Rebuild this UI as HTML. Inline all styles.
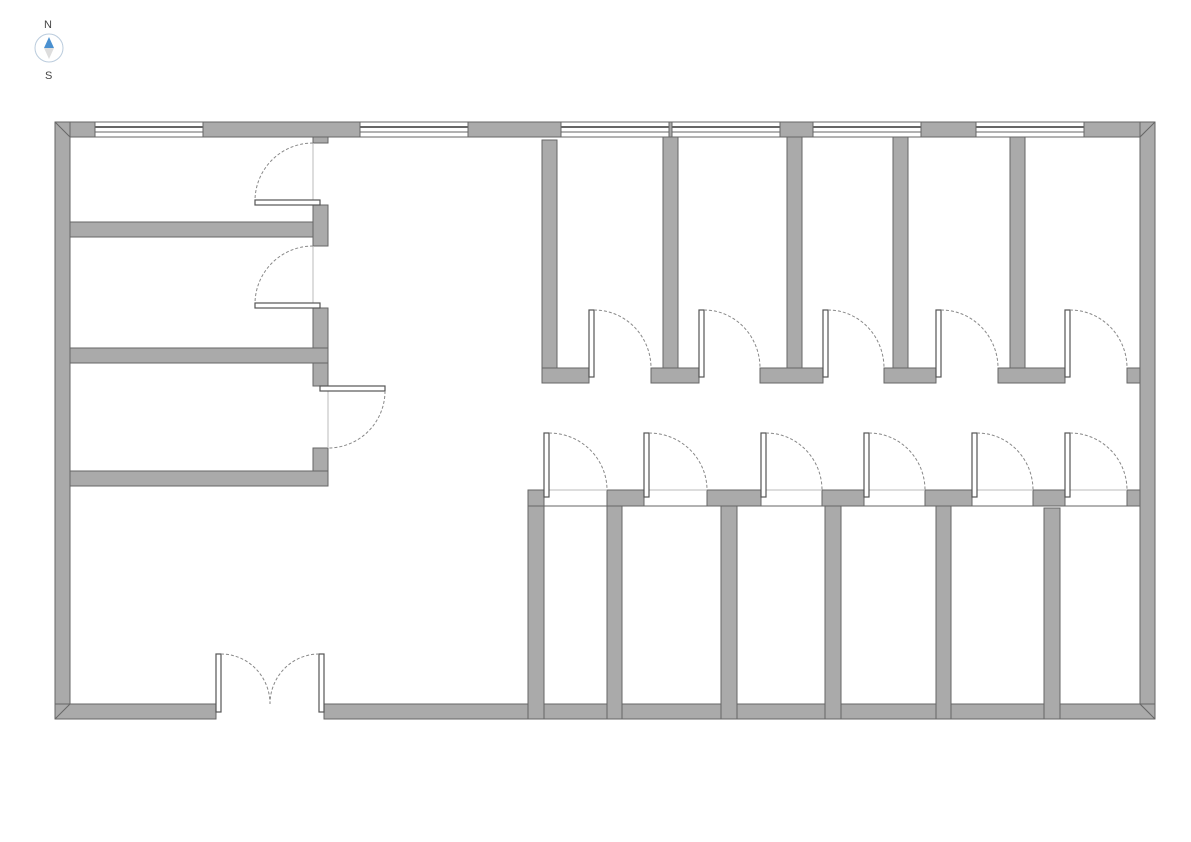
<!DOCTYPE html>
<html><head><meta charset="utf-8"><style>
html,body{margin:0;padding:0;background:#fff;}
svg{display:block;}
.w{fill:#aaa;stroke:#666;stroke-width:1;}
.l{fill:#fff;stroke:#555;stroke-width:1.2;}
.a{fill:none;stroke:#888;stroke-width:1;stroke-dasharray:3,2;}
.t{fill:#444;font-family:"Liberation Sans",sans-serif;font-size:11px;}
</style></head><body>
<svg width="1191" height="842" viewBox="0 0 1191 842" xmlns="http://www.w3.org/2000/svg">
<!-- compass -->
<text class="t" x="44" y="28">N</text>
<circle cx="49" cy="48" r="14" fill="none" stroke="#bcd" stroke-width="1"/>
<polygon points="49,37 54,48 44,48" fill="#4a90d0"/>
<polygon points="49,59 54,48 44,48" fill="#ddd"/>
<text class="t" x="45" y="79">S</text>

<!-- outer walls -->
<rect class="w" x="55" y="122" width="1100" height="15"/>
<rect class="w" x="55" y="122" width="15" height="597"/>
<rect class="w" x="1140" y="122" width="15" height="597"/>
<rect class="w" x="55" y="704" width="161" height="15"/>
<rect class="w" x="324" y="704" width="831" height="15"/>
<line x1="55" y1="122" x2="70" y2="137" stroke="#666"/>
<line x1="1155" y1="122" x2="1140" y2="137" stroke="#666"/>
<line x1="55" y1="719" x2="70" y2="704" stroke="#666"/>
<line x1="1155" y1="719" x2="1140" y2="704" stroke="#666"/>

<!-- windows -->
<g fill="#fff" stroke="#666">
<rect x="95" y="122" width="108" height="15"/><line x1="95" y1="127" x2="203" y2="127" stroke-width="2"/><line x1="95" y1="132" x2="203" y2="132"/>
<rect x="360" y="122" width="108" height="15"/><line x1="360" y1="127" x2="468" y2="127" stroke-width="2"/><line x1="360" y1="132" x2="468" y2="132"/>
<rect x="561" y="122" width="108" height="15"/><line x1="561" y1="127" x2="669" y2="127" stroke-width="2"/><line x1="561" y1="132" x2="669" y2="132"/>
<rect x="672" y="122" width="108" height="15"/><line x1="672" y1="127" x2="780" y2="127" stroke-width="2"/><line x1="672" y1="132" x2="780" y2="132"/>
<rect x="813" y="122" width="108" height="15"/><line x1="813" y1="127" x2="921" y2="127" stroke-width="2"/><line x1="813" y1="132" x2="921" y2="132"/>
<rect x="976" y="122" width="108" height="15"/><line x1="976" y1="127" x2="1084" y2="127" stroke-width="2"/><line x1="976" y1="132" x2="1084" y2="132"/>
</g>

<!-- left rooms -->
<rect class="w" x="313" y="137" width="15" height="6"/>
<rect class="w" x="313" y="205" width="15" height="41"/>
<rect class="w" x="313" y="308" width="15" height="78"/>
<rect class="w" x="313" y="448" width="15" height="38"/>
<rect class="w" x="70" y="222" width="243" height="15"/>
<rect class="w" x="70" y="348" width="258" height="15"/>
<rect class="w" x="70" y="471" width="258" height="15"/>
<line x1="313" y1="143" x2="313" y2="205" stroke="#bbb"/>
<line x1="313" y1="246" x2="313" y2="308" stroke="#bbb"/>
<line x1="328" y1="386" x2="328" y2="448" stroke="#bbb"/>
<rect class="l" x="255" y="200" width="65" height="5"/>
<path class="a" d="M313,143 A58,58 0 0 0 255,200"/>
<rect class="l" x="255" y="303" width="65" height="5"/>
<path class="a" d="M313,246 A58,58 0 0 0 255,303"/>
<rect class="l" x="320" y="386" width="65" height="5"/>
<path class="a" d="M385,391 A57,57 0 0 1 328,448"/>

<!-- entrance -->
<rect class="l" x="216" y="654" width="5" height="58"/>
<path class="a" d="M221,654 A49,50 0 0 1 270,704"/>
<rect class="l" x="319" y="654" width="5" height="58"/>
<path class="a" d="M319,654 A49,50 0 0 0 270,704"/>

<!-- upper stalls -->
<rect class="w" x="542" y="140" width="15" height="243"/>
<rect class="w" x="663" y="137" width="15" height="246"/>
<rect class="w" x="787" y="137" width="15" height="246"/>
<rect class="w" x="893" y="137" width="15" height="246"/>
<rect class="w" x="1010" y="137" width="15" height="246"/>
<rect class="w" x="542" y="368" width="47" height="15"/>
<rect class="w" x="651" y="368" width="48" height="15"/>
<rect class="w" x="760" y="368" width="63" height="15"/>
<rect class="w" x="884" y="368" width="52" height="15"/>
<rect class="w" x="998" y="368" width="67" height="15"/>
<rect class="w" x="1127" y="368" width="13" height="15"/>
<g>
<rect class="l" x="589" y="310" width="5" height="67"/><path class="a" d="M594,310 A57,58 0 0 1 651,368"/>
<rect class="l" x="699" y="310" width="5" height="67"/><path class="a" d="M704,310 A56,58 0 0 1 760,368"/>
<rect class="l" x="823" y="310" width="5" height="67"/><path class="a" d="M828,310 A56,58 0 0 1 884,368"/>
<rect class="l" x="936" y="310" width="5" height="67"/><path class="a" d="M941,310 A57,58 0 0 1 998,368"/>
<rect class="l" x="1065" y="310" width="5" height="67"/><path class="a" d="M1070,310 A57,58 0 0 1 1127,368"/>
</g>

<!-- lower stalls -->
<rect class="w" x="528" y="490" width="16" height="229"/>
<rect class="w" x="607" y="490" width="15" height="229"/>
<rect class="w" x="721" y="490" width="16" height="229"/>
<rect class="w" x="825" y="490" width="16" height="229"/>
<rect class="w" x="936" y="490" width="15" height="229"/>
<rect class="w" x="1044" y="508" width="16" height="211"/>
<rect class="w" x="528" y="490" width="16" height="16"/>
<rect class="w" x="607" y="490" width="37" height="16"/>
<rect class="w" x="707" y="490" width="54" height="16"/>
<rect class="w" x="822" y="490" width="42" height="16"/>
<rect class="w" x="925" y="490" width="47" height="16"/>
<rect class="w" x="1033" y="490" width="32" height="16"/>
<rect class="w" x="1127" y="490" width="13" height="16"/>
<g stroke="#666">
<line x1="544" y1="506" x2="607" y2="506"/><line x1="622" y1="506" x2="721" y2="506"/>
<line x1="737" y1="506" x2="825" y2="506"/><line x1="841" y1="506" x2="936" y2="506"/>
<line x1="951" y1="506" x2="1140" y2="506"/>
</g>
<g stroke="#bbb">
<line x1="549" y1="490" x2="607" y2="490"/><line x1="649" y1="490" x2="707" y2="490"/>
<line x1="766" y1="490" x2="822" y2="490"/><line x1="869" y1="490" x2="925" y2="490"/>
<line x1="977" y1="490" x2="1033" y2="490"/><line x1="1070" y1="490" x2="1127" y2="490"/>
</g>
<rect class="l" x="544" y="433" width="5" height="64"/><path class="a" d="M549,433 A58,57 0 0 1 607,490"/>
<rect class="l" x="644" y="433" width="5" height="64"/><path class="a" d="M649,433 A58,57 0 0 1 707,490"/>
<rect class="l" x="761" y="433" width="5" height="64"/><path class="a" d="M766,433 A56,57 0 0 1 822,490"/>
<rect class="l" x="864" y="433" width="5" height="64"/><path class="a" d="M869,433 A56,57 0 0 1 925,490"/>
<rect class="l" x="972" y="433" width="5" height="64"/><path class="a" d="M977,433 A56,57 0 0 1 1033,490"/>
<rect class="l" x="1065" y="433" width="5" height="64"/><path class="a" d="M1070,433 A57,57 0 0 1 1127,490"/>
</svg>
</body></html>
